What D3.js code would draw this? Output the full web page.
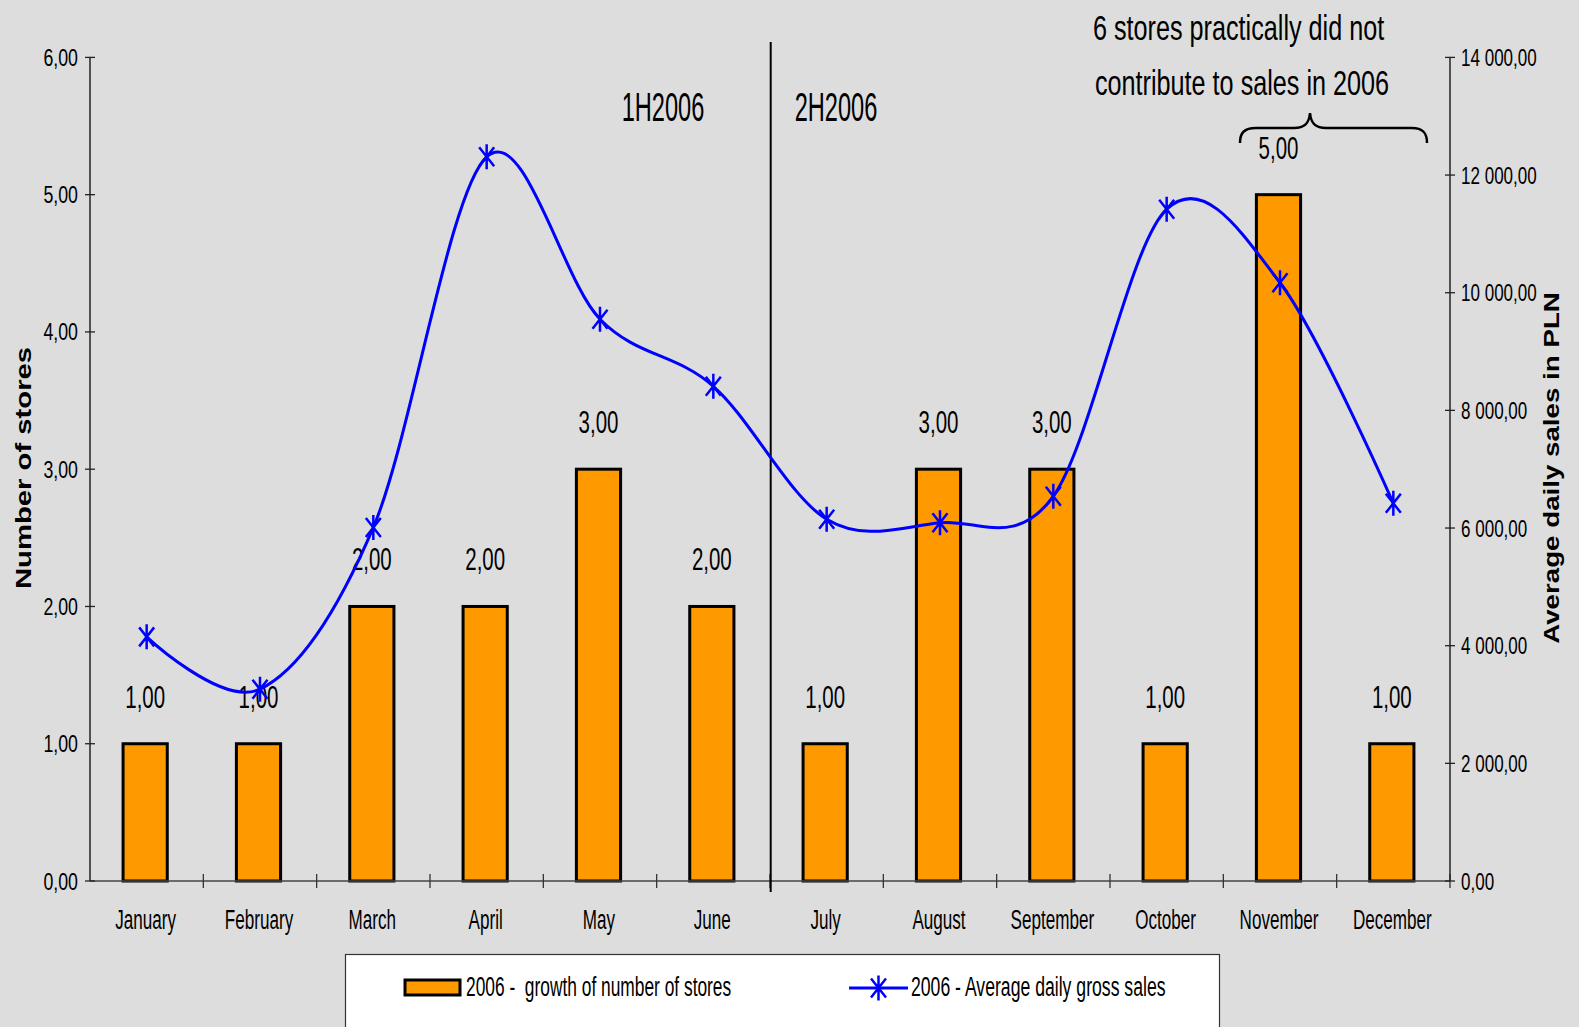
<!DOCTYPE html>
<html>
<head>
<meta charset="utf-8">
<script src="https://cdn.jsdelivr.net/npm/d3@7"></script>
<style>
  html, body { margin: 0; padding: 0; background: #dddddd; }
  svg { display: block; }
  text { font-family: "Liberation Sans", Arial, sans-serif; fill: #000; white-space: pre; }
</style>
</head>
<body>
<script>
// ---- data ----
const months = ["January","February","March","April","May","June","July","August","September","October","November","December"];
const storeGrowth = [1, 1, 2, 2, 3, 2, 1, 3, 3, 1, 5, 1];
const dailySales = [4150, 3260, 6010, 12310, 9550, 8410, 6150, 6090, 6540, 11420, 10170, 6420];
const leftTicks = [0, 1, 2, 3, 4, 5, 6];
const rightTicks = [0, 2000, 4000, 6000, 8000, 10000, 12000, 14000];
const halfLabels = ["1H2006", "2H2006"];
const noteLines = ["6 stores practically did not", "contribute to sales in 2006"];
const legendLabels = ["2006 -  growth of number of stores", "2006 - Average daily gross sales"];
const leftTitle = "Number of stores";
const rightTitle = "Average daily sales in PLN";

// ---- layout ----
const W = 1579, H = 1027;
const X0 = 90, X1 = 1450, Y0 = 881, Y1 = 57.4;

const svg = d3.select("body").append("svg").attr("width", W).attr("height", H);
svg.append("rect").attr("width", W).attr("height", H).attr("fill", "#dddddd");

const x = d3.scaleBand().domain(months).range([X0, X1]).padding(0);
const yL = d3.scaleLinear().domain([0, 6]).range([Y0, Y1]);
const yR = d3.scaleLinear().domain([0, 14000]).range([Y0, Y1]);

const loc = d3.formatLocale({decimal: ",", thousands: " ", grouping: [3], currency: ["", ""]});
const fmtL = loc.format(".2f");
const fmtR = loc.format(",.2f");

function txt(g, tx, ty, str, size, sx, anchor, weight, rot) {
  const t = g.append("text")
    .attr("transform", `translate(${tx},${ty})` + (rot ? ` rotate(${rot})` : "") + ` scale(${sx},1)`)
    .attr("text-anchor", anchor || "middle")
    .attr("font-size", size)
    .attr("font-weight", weight || "normal")
    .attr("xml:space", "preserve")
    .text(str);
  return t;
}

// ---- bars ----
const bw = x.bandwidth() * 0.39;
svg.append("g").selectAll("rect").data(months).join("rect")
  .attr("x", (d) => x(d) + x.bandwidth() / 2 - 1.5 - bw / 2)
  .attr("y", (d, i) => yL(storeGrowth[i]))
  .attr("width", bw)
  .attr("height", (d, i) => Y0 - yL(storeGrowth[i]))
  .attr("fill", "#ff9900")
  .attr("stroke", "#000")
  .attr("stroke-width", 3);

// ---- axes ----
const axG = svg.append("g");
axG.append("line").attr("x1", X0).attr("x2", X1).attr("y1", Y0).attr("y2", Y0)
  .attr("stroke", "#444").attr("stroke-width", 1.5);
const bounds = months.map(m => x(m)).concat([X1]);
axG.selectAll(".xt").data(bounds.slice(1)).join("line")
  .attr("x1", d => d).attr("x2", d => d).attr("y1", Y0 - 7).attr("y2", Y0 + 7)
  .attr("stroke", "#333").attr("stroke-width", 1.3);
months.forEach(m => txt(axG, x(m) + x.bandwidth() / 2 - 1, 929, m, 28, 0.61, "middle"));

axG.append("line").attr("x1", X0).attr("x2", X0).attr("y1", Y1).attr("y2", Y0)
  .attr("stroke", "#222").attr("stroke-width", 1.5);
leftTicks.forEach(v => {
  axG.append("line").attr("x1", X0 - 5).attr("x2", X0 + 5).attr("y1", yL(v)).attr("y2", yL(v))
    .attr("stroke", "#222").attr("stroke-width", 1.3);
  txt(axG, 78, yL(v) + 8.5, fmtL(v), 24, 0.74, "end");
});
axG.append("line").attr("x1", X1).attr("x2", X1).attr("y1", Y1).attr("y2", Y0)
  .attr("stroke", "#222").attr("stroke-width", 1.5);
rightTicks.forEach(v => {
  axG.append("line").attr("x1", X1 - 5).attr("x2", X1 + 5).attr("y1", yR(v)).attr("y2", yR(v))
    .attr("stroke", "#222").attr("stroke-width", 1.3);
  txt(axG, 1461, yR(v) + 8.5, fmtR(v), 24, 0.71, "start");
});
txt(axG, 31, 468, leftTitle, 22, 1.33, "middle", "bold", -90);
txt(axG, 1559, 468, rightTitle, 22, 1.26, "middle", "bold", -90);

// ---- divider and half labels ----
svg.append("line").attr("x1", 770.7).attr("x2", 770.7).attr("y1", 42).attr("y2", 892)
  .attr("stroke", "#000").attr("stroke-width", 2);
txt(svg, 663, 121, halfLabels[0], 40, 0.59, "middle");
txt(svg, 836, 121, halfLabels[1], 40, 0.59, "middle");

// ---- bar value labels ----
months.forEach((m, i) => {
  txt(svg, x(m) + x.bandwidth() / 2 - 1.5, yL(storeGrowth[i]) - 36, fmtL(storeGrowth[i]), 31, 0.66, "middle");
});

// ---- line ----
const line = d3.line()
  .x((d, i) => x(months[i]) + x.bandwidth() / 2)
  .y(d => yR(d))
  .curve(d3.curveCardinal.tension(0));
svg.append("path").datum(dailySales).attr("d", line)
  .attr("fill", "none").attr("stroke", "#0000ff").attr("stroke-width", 3);

const star = "M0,-12.5L0,12.5M-7.5,-9.5L7.5,9.5M7.5,-9.5L-7.5,9.5";
svg.append("g").selectAll("path").data(dailySales).join("path")
  .attr("transform", (d, i) => `translate(${x(months[i]) + x.bandwidth() / 2},${yR(d)})`)
  .attr("d", star).attr("fill", "none").attr("stroke", "#0000ff").attr("stroke-width", 2.5);

// ---- annotation ----
txt(svg, 1093, 40, noteLines[0], 35, 0.72, "start");
txt(svg, 1095, 95, noteLines[1], 35, 0.72, "start");
svg.append("path")
  .attr("d", "M1240,143 C1240,133 1244,128 1256,128 L1294,128 C1304,128 1309,124 1310,113 C1311,124 1316,128 1326,128 L1412,128 C1423,128 1427,133 1427,143")
  .attr("fill", "none").attr("stroke", "#000").attr("stroke-width", 2.5);

// ---- legend ----
const lg = svg.append("g");
lg.append("rect").attr("x", 345.5).attr("y", 954.5).attr("width", 874).attr("height", 100)
  .attr("fill", "#ffffff").attr("stroke", "#333").attr("stroke-width", 1.2);
lg.append("rect").attr("x", 405).attr("y", 980).attr("width", 55).attr("height", 15)
  .attr("fill", "#ff9900").attr("stroke", "#000").attr("stroke-width", 3);
txt(lg, 466, 996, legendLabels[0], 28, 0.62, "start");
lg.append("line").attr("x1", 849).attr("x2", 908).attr("y1", 988).attr("y2", 988)
  .attr("stroke", "#0000ff").attr("stroke-width", 3);
lg.append("path").attr("transform", "translate(878.5,988)").attr("d", star)
  .attr("fill", "none").attr("stroke", "#0000ff").attr("stroke-width", 2.5);
txt(lg, 911, 996, legendLabels[1], 28, 0.63, "start");
</script>
</body>
</html>
